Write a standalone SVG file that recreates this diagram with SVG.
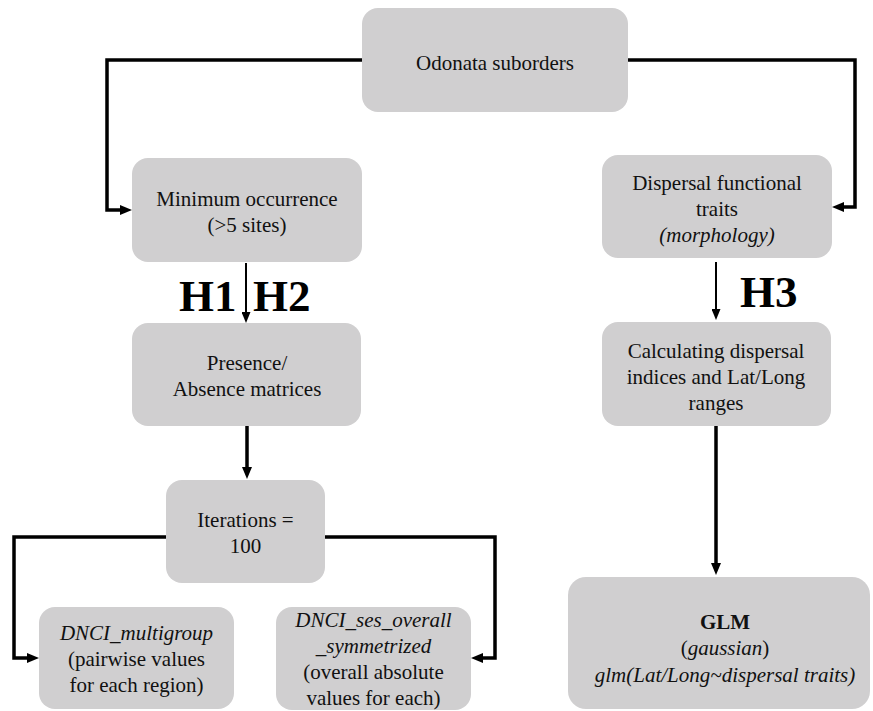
<svg xmlns="http://www.w3.org/2000/svg" width="873" height="711" viewBox="0 0 873 711">
<style>
.box{fill:#d0cfd0}
text{font-family:'Liberation Serif','Times New Roman',serif}
.t{font-size:21px;fill:#111;text-anchor:middle}
.i{font-style:italic}
.h{font-size:45px;font-weight:bold;fill:#000}
.c{fill:none;stroke:#000;stroke-width:3.5}
.thin{stroke-width:2}
</style>
<defs>
<marker id="ah" markerUnits="userSpaceOnUse" markerWidth="12" markerHeight="10" refX="0" refY="5" orient="auto">
<path d="M0,0 L12,5 L0,10 z" fill="#000"/>
</marker>
<marker id="ahs" markerUnits="userSpaceOnUse" markerWidth="11" markerHeight="9" refX="0" refY="4.5" orient="auto">
<path d="M0,0 L11,4.5 L0,9 z" fill="#000"/>
</marker>
</defs>
<rect width="873" height="711" fill="#fff"/>
<g id="connectors">
<path class="c" d="M362,60 H107 V210 H120" marker-end="url(#ah)"/>
<path class="c" d="M628,60 H855 V207 H844" marker-end="url(#ah)"/>
<path class="c thin" d="M246,263 V312" marker-end="url(#ahs)"/>
<path class="c thin" d="M716,262 V309" marker-end="url(#ahs)"/>
<path class="c" d="M247,426 V467" marker-end="url(#ah)"/>
<path class="c" d="M166,537 H14 V658 H27" marker-end="url(#ah)"/>
<path class="c" d="M325,537 H495 V658 H483" marker-end="url(#ah)"/>
<path class="c" d="M716,426 V563" marker-end="url(#ah)"/>
</g>
<g id="odonata">
<rect class="box" x="362" y="8" width="266" height="104" rx="16"/>
<text class="t" x="495" y="70">Odonata suborders</text>
</g>
<g id="minimum">
<rect class="box" x="132" y="158" width="230" height="104" rx="16"/>
<text class="t" x="247" y="206">Minimum occurrence</text>
<text class="t" x="247" y="232">(&gt;5 sites)</text>
</g>
<g id="dispersal">
<rect class="box" x="602" y="155" width="230" height="103" rx="16"/>
<text class="t" x="717" y="190">Dispersal functional</text>
<text class="t" x="717" y="216">traits</text>
<text class="t i" x="717" y="242">(morphology)</text>
</g>
<g id="labels">
<text class="h" x="179" y="311">H1</text>
<text class="h" x="253" y="311">H2</text>
<text class="h" x="740" y="307">H3</text>
</g>
<g id="presence">
<rect class="box" x="132" y="323" width="229" height="103" rx="16"/>
<text class="t" x="247" y="370">Presence/</text>
<text class="t" x="247" y="396">Absence matrices</text>
</g>
<g id="calculating">
<rect class="box" x="602" y="322" width="229" height="104" rx="16"/>
<text class="t" x="716" y="358">Calculating dispersal</text>
<text class="t" x="716" y="384">indices and Lat/Long</text>
<text class="t" x="716" y="410">ranges</text>
</g>
<g id="iterations">
<rect class="box" x="166" y="480" width="159" height="103" rx="16"/>
<text class="t" x="245.5" y="527">Iterations =</text>
<text class="t" x="245.5" y="553">100</text>
</g>
<g id="dnci-multigroup">
<rect class="box" x="39" y="607" width="195" height="102" rx="16"/>
<text class="t i" x="136.5" y="640">DNCI_multigroup</text>
<text class="t" x="136.5" y="666">(pairwise values</text>
<text class="t" x="136.5" y="692">for each region)</text>
</g>
<g id="dnci-ses">
<rect class="box" x="276" y="607" width="195" height="103" rx="16"/>
<text class="t i" x="373.5" y="627">DNCI_ses_overall</text>
<text class="t i" x="373.5" y="653">_symmetrized</text>
<text class="t" x="373.5" y="679">(overall absolute</text>
<text class="t" x="373.5" y="705">values for each)</text>
</g>
<g id="glm">
<rect class="box" x="568" y="577" width="302" height="132" rx="18"/>
<text class="t" x="725" y="629" font-weight="bold">GLM</text>
<text class="t" x="725" y="655">(<tspan font-style="italic">gaussian</tspan>)</text>
<text class="t i" x="725" y="682">glm(Lat/Long~dispersal traits)</text>
</g>
</svg>
